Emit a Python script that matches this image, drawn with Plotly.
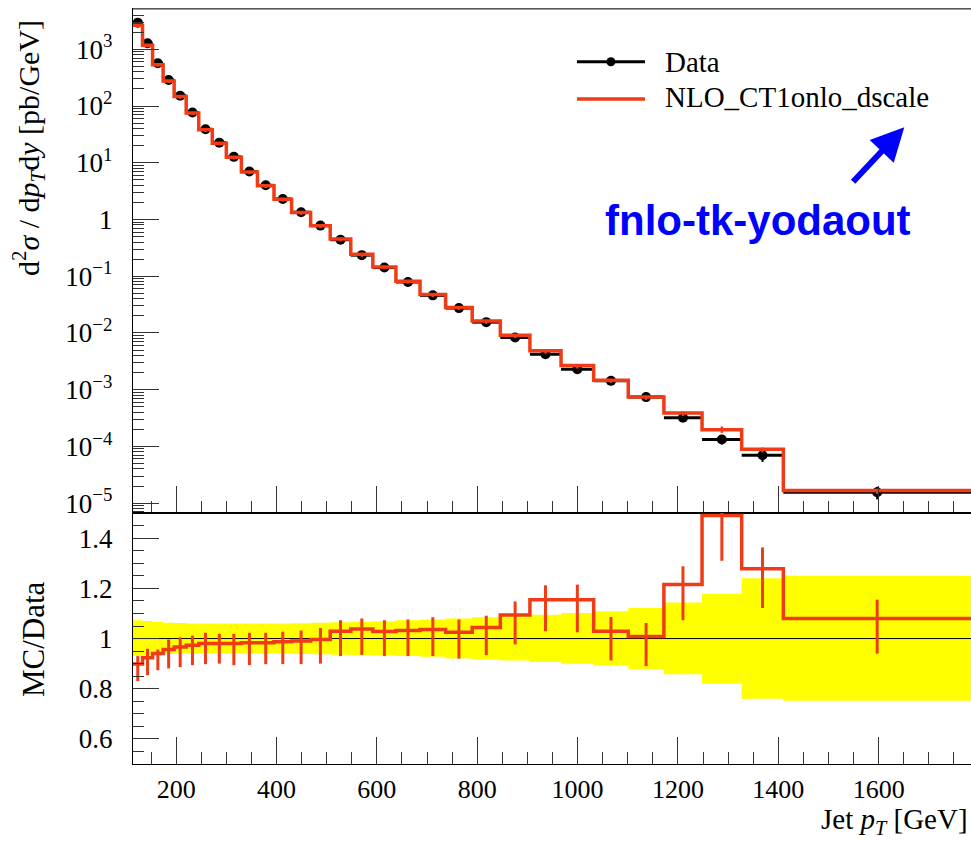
import plotly.graph_objects as go

# ---------------- data ----------------
bin_edges = [114, 133, 153, 174, 196, 220, 245, 272, 300, 330, 362, 395, 430, 468,
             507, 548, 592, 638, 686, 737, 790, 846, 905, 967, 1032, 1101, 1172,
             1248, 1327, 1410, 1784]

data_xsec = [2950, 1275, 567, 288, 152, 77, 39, 22.6, 12.7, 7.0, 4.0, 2.3, 1.34, 0.78,
             0.44, 0.235, 0.142, 0.079, 0.046, 0.0274, 0.0155, 0.0083, 0.0042, 0.0023,
             0.00143, 7.4e-4, 3.2e-4, 1.32e-4, 7.0e-5, 1.55e-5]

mc_over_data = [0.899, 0.923, 0.94, 0.956, 0.966, 0.973, 0.98, 0.98, 0.98, 0.983, 0.983,
                0.987, 0.99, 0.996, 1.029, 1.038, 1.028, 1.032, 1.036, 1.025, 1.044,
                1.094, 1.155, 1.155, 1.029, 1.008, 1.215, 1.49, 1.278, 1.08]

mc_err_hi = [0.93, 0.959, 0.956, 0.996, 1.005, 1.012, 1.023, 1.019, 1.019, 1.023, 1.023,
             1.027, 1.032, 1.042, 1.073, 1.08, 1.073, 1.076, 1.085, 1.076, 1.091,
             1.148, 1.212, 1.215, 1.086, 1.062, 1.288, 1.70, 1.363, 1.155]
mc_err_lo = [0.83, 0.854, 0.874, 0.881, 0.886, 0.894, 0.898, 0.90, 0.894, 0.894, 0.898,
             0.898, 0.898, 0.90, 0.93, 0.935, 0.93, 0.93, 0.93, 0.92, 0.934,
             0.977, 1.029, 1.025, 0.913, 0.89, 1.073, 1.31, 1.122, 0.94]

data_band_hi = [1.073, 1.07, 1.066, 1.063, 1.062, 1.06, 1.06, 1.06, 1.06, 1.06, 1.06,
                1.06, 1.061, 1.063, 1.065, 1.067, 1.069, 1.073, 1.076, 1.08, 1.085,
                1.089, 1.095, 1.102, 1.109, 1.122, 1.144, 1.179, 1.24, 1.25]
data_band_lo = [0.93, 0.932, 0.936, 0.938, 0.94, 0.94, 0.94, 0.94, 0.94, 0.94, 0.94,
                0.94, 0.938, 0.937, 0.935, 0.933, 0.932, 0.93, 0.927, 0.92, 0.917,
                0.913, 0.907, 0.90, 0.893, 0.879, 0.858, 0.82, 0.76, 0.752]

top_tick_vals = [1e-5, 1e-4, 1e-3, 1e-2, 1e-1, 1, 10, 100, 1000]
top_tick_text = ["10<sup>−5</sup>", "10<sup>−4</sup>", "10<sup>−3</sup>", "10<sup>−2</sup>",
                 "10<sup>−1</sup>", "1", "10<sup>1</sup>", "10<sup>2</sup>", "10<sup>3</sup>"]
ratio_tick_vals = [0.6, 0.8, 1.0, 1.2, 1.4]
ratio_tick_text = ["0.6", "0.8", "1", "1.2", "1.4"]
x_tick_vals = [200, 400, 600, 800, 1000, 1200, 1400, 1600]

# ---------------- derived ----------------
centers = [(a + b) / 2 for a, b in zip(bin_edges[:-1], bin_edges[1:])]
halfw = [(b - a) / 2 for a, b in zip(bin_edges[:-1], bin_edges[1:])]
mc_xsec = [d * r for d, r in zip(data_xsec, mc_over_data)]
mc_top_hi = [d * (h - r) for d, h, r in zip(data_xsec, mc_err_hi, mc_over_data)]
mc_top_lo = [d * (r - l) for d, l, r in zip(data_xsec, mc_err_lo, mc_over_data)]
data_err_hi = [d * (h - 1) for d, h in zip(data_xsec, data_band_hi)]
data_err_lo = [d * (1 - l) for d, l in zip(data_xsec, data_band_lo)]

RED = "#EF3B16"
SERIF = "Liberation Serif"

fig = go.Figure()

# ---- top panel ----
fig.add_trace(go.Scatter(
    x=centers, y=data_xsec, mode="markers", xaxis="x", yaxis="y",
    marker=dict(color="black", size=10),
    error_x=dict(type="data", array=halfw, color="black", thickness=3, width=0),
    error_y=dict(type="data", array=data_err_hi, arrayminus=data_err_lo,
                 color="black", thickness=2, width=0),
    showlegend=False))
fig.add_trace(go.Scatter(
    x=bin_edges, y=mc_xsec + [mc_xsec[-1]], mode="lines", line_shape="hv",
    xaxis="x", yaxis="y", line=dict(color=RED, width=3.5), showlegend=False))
fig.add_trace(go.Scatter(
    x=centers, y=mc_xsec, mode="markers", xaxis="x", yaxis="y",
    marker=dict(size=0.1, color=RED, opacity=0),
    error_y=dict(type="data", array=mc_top_hi, arrayminus=mc_top_lo,
                 color=RED, thickness=2.5, width=0),
    showlegend=False))

# ---- ratio panel ----
fig.add_trace(go.Scatter(
    x=bin_edges, y=data_band_lo + [data_band_lo[-1]], mode="lines", line_shape="hv",
    line=dict(width=0, color="#FFFF00"), xaxis="x2", yaxis="y2", showlegend=False))
fig.add_trace(go.Scatter(
    x=bin_edges, y=data_band_hi + [data_band_hi[-1]], mode="lines", line_shape="hv",
    line=dict(width=0, color="#FFFF00"), fill="tonexty", fillcolor="#FFFF00",
    xaxis="x2", yaxis="y2", showlegend=False))
fig.add_trace(go.Scatter(
    x=[bin_edges[0], bin_edges[-1]], y=[1, 1], mode="lines",
    line=dict(color="black", width=1), xaxis="x2", yaxis="y2", showlegend=False))
fig.add_trace(go.Scatter(
    x=bin_edges, y=mc_over_data + [mc_over_data[-1]], mode="lines", line_shape="hv",
    line=dict(color=RED, width=3.5), xaxis="x2", yaxis="y2", showlegend=False))
fig.add_trace(go.Scatter(
    x=centers, y=mc_over_data, mode="markers", xaxis="x2", yaxis="y2",
    marker=dict(size=0.1, color=RED, opacity=0),
    error_y=dict(type="data",
                 array=[h - r for h, r in zip(mc_err_hi, mc_over_data)],
                 arrayminus=[r - l for l, r in zip(mc_err_lo, mc_over_data)],
                 color=RED, thickness=3, width=0),
    showlegend=False))

split = 0.3323
axis_common = dict(showline=True, linecolor="black", linewidth=1.3, mirror=True,
                   showgrid=False, zeroline=False, ticks="inside", tickcolor="#333",
                   tickwidth=1.3)

fig.update_layout(
    width=971, height=842,
    margin=dict(l=133, r=0, t=9, b=78),
    paper_bgcolor="white", plot_bgcolor="white",
    font=dict(family=SERIF, size=27, color="black"),
    xaxis=dict(domain=[0, 1], range=[bin_edges[0], bin_edges[-1]], anchor="y",
               matches="x2", showticklabels=False, tickvals=x_tick_vals, ticklen=27,
               minor=dict(dtick=50, tick0=0, ticks="inside", ticklen=12,
                          tickcolor="#333", tickwidth=1.3),
               **axis_common),
    yaxis=dict(domain=[split, 1], type="log", range=[-5.176, 3.71], anchor="x",
               tickvals=top_tick_vals, ticktext=top_tick_text, ticklen=26,
               ticklabelstandoff=14,
               minor=dict(tickmode="array",
                          tickvals=[m * 10.0 ** e for e in range(-6, 4) for m in range(2, 10)],
                          ticks="inside", ticklen=11, tickcolor="#333", tickwidth=1.3),
               **axis_common),
    xaxis2=dict(domain=[0, 1], range=[bin_edges[0], bin_edges[-1]], anchor="y2",
                tickvals=x_tick_vals, ticklen=27, ticklabelstandoff=2,
                tickfont=dict(size=26),
                minor=dict(dtick=50, tick0=0, ticks="inside", ticklen=12,
                           tickcolor="#333", tickwidth=1.3),
                **axis_common),
    yaxis2=dict(domain=[0, split], range=[0.5, 1.5], anchor="x2",
                tickvals=ratio_tick_vals, ticktext=ratio_tick_text, ticklen=26,
                ticklabelstandoff=14,
                minor=dict(dtick=0.05, tick0=0, ticks="inside", ticklen=11,
                           tickcolor="#333", tickwidth=1.3),
                **axis_common),
)

# grey top frame line of the upper panel
fig.add_shape(type="line", xref="paper", yref="paper", x0=0, x1=1, y0=1, y1=1,
              line=dict(color="#777", width=1.6))

# ---- legend (manual) ----
fig.add_shape(type="line", xref="paper", yref="paper", x0=0.5298, x1=0.611,
              y0=0.9302, y1=0.9302, line=dict(color="black", width=3))
fig.add_shape(type="circle", xref="paper", yref="paper", xsizemode="pixel",
              ysizemode="pixel", xanchor=0.5703, yanchor=0.9302,
              x0=-4.5, x1=4.5, y0=-4.5, y1=4.5, fillcolor="black",
              line=dict(color="black", width=0))
fig.add_shape(type="line", xref="paper", yref="paper", x0=0.5298, x1=0.611,
              y0=0.8808, y1=0.8808, line=dict(color=RED, width=3.5))
fig.add_annotation(xref="paper", yref="paper", x=0.632, y=0.9302, text="Data",
                   showarrow=False, xanchor="left", yanchor="middle",
                   font=dict(family=SERIF, size=29, color="black"))
fig.add_annotation(xref="paper", yref="paper", x=0.632, y=0.8834,
                   text="NLO_CT1onlo_dscale", showarrow=False, xanchor="left",
                   yanchor="middle", font=dict(family=SERIF, size=29, color="black"))

# ---- blue label and arrow ----
fig.add_annotation(xref="paper", yref="paper", x=0.7464, y=0.7205,
                   text="<b>fnlo-tk-yodaout</b>", showarrow=False,
                   xanchor="center", yanchor="middle",
                   font=dict(family="Liberation Sans", size=42, color="#0000FF"))
fig.add_annotation(xref="paper", yref="paper", x=0.9204, y=0.8433, text="",
                   showarrow=True, ax=-52.6, ay=56, arrowhead=2, arrowsize=1.1,
                   arrowwidth=6, arrowcolor="#0000FF")

# ---- axis titles ----
fig.add_annotation(xref="paper", yref="paper", x=-0.124, y=0.8159,
                   text="d<sup>2</sup><i>σ</i> / d<i>p</i><sub><i>T</i></sub>d<i>y</i> [pb/GeV]",
                   textangle=-90, showarrow=False, xanchor="center", yanchor="middle",
                   font=dict(family=SERIF, size=30, color="black"))
fig.add_annotation(xref="paper", yref="paper", x=-0.118, y=0.1656, text="MC/Data",
                   textangle=-90, showarrow=False, xanchor="center", yanchor="middle",
                   font=dict(family=SERIF, size=31, color="black"))
fig.add_annotation(xref="paper", yref="paper", x=0.999, y=-0.0755,
                   text="Jet <i>p</i><sub><i>T</i></sub> [GeV]", showarrow=False,
                   xanchor="right", yanchor="middle",
                   font=dict(family=SERIF, size=29, color="black"))

fig.write_html("out.html",
               config={"displayModeBar": False},
               post_script="document.body.style.margin='0';"
                           "document.body.style.overflow='hidden';")
